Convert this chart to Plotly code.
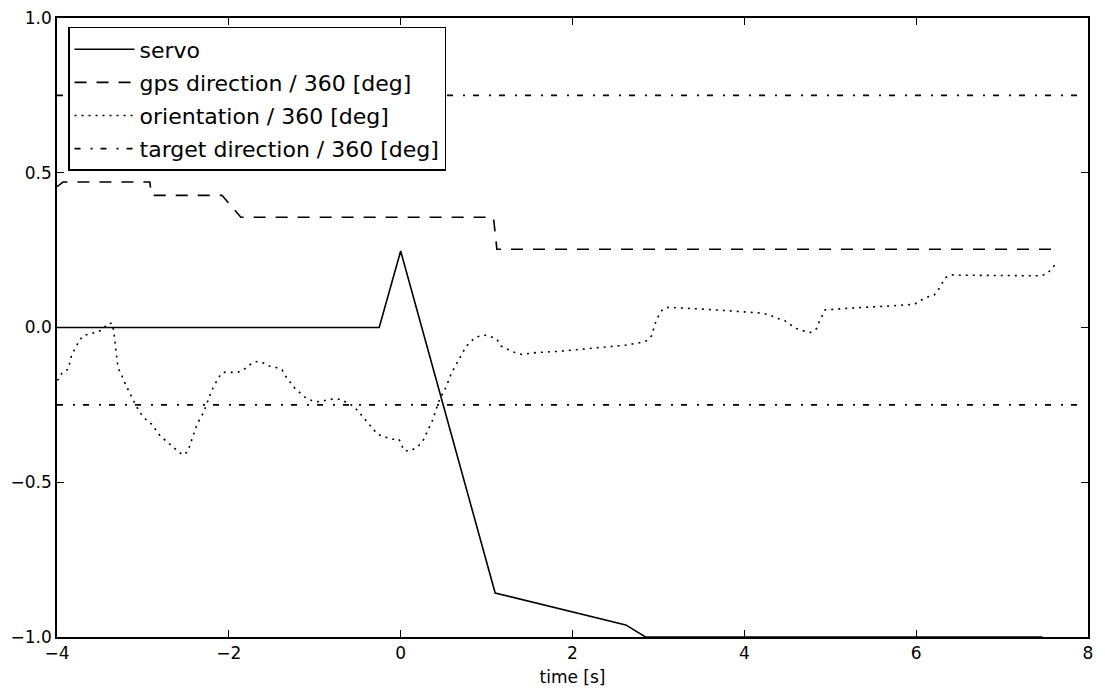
import plotly.graph_objects as go

# ---- data ----
servo_t = [-4.0, -0.25, 0.0, 1.10, 2.62, 2.85, 7.47]
servo_v = [0.0, 0.0, 0.247, -0.858, -0.961, -1.0, -1.0]

gps_t = [-4.0, -3.93, -2.92, -2.90, -2.08, -1.86, 1.08, 1.12, 7.63]
gps_v = [0.455, 0.470, 0.470, 0.427, 0.427, 0.356, 0.356, 0.253, 0.253]

orient_t = [-4.0, -3.98, -3.94, -3.87, -3.83, -3.75, -3.70, -3.62, -3.54, -3.46, -3.42,
            -3.36, -3.34, -3.31, -3.29, -3.25, -3.18, -3.08, -3.02, -2.96, -2.90, -2.80,
            -2.67, -2.54, -2.48, -2.43, -2.37, -2.29, -2.20, -2.12, -2.07, -1.90, -1.83,
            -1.76, -1.69, -1.61, -1.54, -1.45, -1.38, -1.34, -1.23, -1.11, -1.03, -0.96,
            -0.88, -0.79, -0.70, -0.63, -0.55, -0.49, -0.38, -0.27, -0.19, -0.10, -0.02,
            0.04, 0.12, 0.20, 0.26, 0.30, 0.37, 0.45, 0.53, 0.59, 0.68, 0.76, 0.81, 0.89,
            0.97, 1.05, 1.12, 1.17, 1.25, 1.33, 1.41, 1.58, 1.84, 2.10, 2.36, 2.62, 2.78,
            2.86, 2.92, 2.97, 3.01, 3.05, 3.11, 3.27, 3.55, 3.87, 4.14, 4.21, 4.30, 4.38,
            4.47, 4.53, 4.60, 4.69, 4.77, 4.84, 4.87, 4.94, 5.03, 5.38, 5.72, 5.98, 6.05,
            6.13, 6.21, 6.26, 6.34, 6.41, 6.50, 7.45, 7.53, 7.58, 7.64]
orient_v = [-0.170, -0.167, -0.146, -0.135, -0.089, -0.047, -0.027, -0.021, -0.015, -0.006, 0.011,
            0.014, -0.010, -0.084, -0.130, -0.153, -0.197, -0.253, -0.280, -0.299, -0.312, -0.350,
            -0.380, -0.412, -0.402, -0.360, -0.313, -0.272, -0.204, -0.162, -0.145, -0.145, -0.137,
            -0.121, -0.110, -0.113, -0.124, -0.129, -0.137, -0.157, -0.197, -0.226, -0.237, -0.240,
            -0.236, -0.231, -0.232, -0.243, -0.254, -0.272, -0.310, -0.345, -0.353, -0.361, -0.361,
            -0.398, -0.398, -0.385, -0.366, -0.342, -0.300, -0.234, -0.191, -0.148, -0.103, -0.062, -0.046, -0.030,
            -0.024, -0.030, -0.038, -0.060, -0.071, -0.081, -0.087, -0.081, -0.077, -0.070, -0.063, -0.057, -0.049,
            -0.043, -0.027, 0.019, 0.043, 0.059, 0.065, 0.063, 0.059, 0.053, 0.048, 0.046, 0.040, 0.030,
            0.022, 0.011, -0.003, -0.011, -0.016, -0.004, 0.017, 0.057, 0.059, 0.065, 0.070, 0.075, 0.087,
            0.098, 0.105, 0.123, 0.161, 0.170, 0.169, 0.167, 0.175, 0.193, 0.207]

target_t = [-4.0, 7.95, None, -4.0, 7.95]
target_v = [0.75, 0.75, None, -0.25, -0.25]

x_ticks = [-4, -2, 0, 2, 4, 6, 8]
x_labels = ["\u22124", "\u22122", "0", "2", "4", "6", "8"]
y_ticks = [-1.0, -0.5, 0.0, 0.5, 1.0]
y_labels = ["\u22121.0", "\u22120.5", "0.0", "0.5", "1.0"]

FONT = "DejaVu Sans"

fig = go.Figure()
fig.add_trace(go.Scatter(x=servo_t, y=servo_v, mode="lines", name="servo",
                         legendgroup="a", line=dict(color="black", width=1.6)))
fig.add_trace(go.Scatter(x=gps_t, y=gps_v, mode="lines", name="gps direction / 360 [deg]",
                         legendgroup="b", line=dict(color="black", width=1.6, dash="12px,10px")))
fig.add_trace(go.Scatter(x=orient_t, y=orient_v, mode="lines", name="orientation / 360 [deg]",
                         legendgroup="c", line=dict(color="black", width=1.6, dash="2px,5px")))
fig.add_trace(go.Scatter(x=target_t, y=target_v, mode="lines", name="target direction / 360 [deg]",
                         legendgroup="d", connectgaps=False,
                         line=dict(color="black", width=1.6, dash="6px,10px,2px,8px")))

axis_common = dict(showline=True, linecolor="black", linewidth=1.5, mirror="ticks",
                   ticks="inside", ticklen=7, tickcolor="black", tickwidth=1,
                   showgrid=False, zeroline=False, automargin=False,
                   ticklabeloverflow="allow",
                   tickfont=dict(family=FONT, size=17, color="black"))

fig.update_xaxes(range=[-4, 8], tickvals=x_ticks, ticktext=x_labels,
                 title=dict(text="time [s]", font=dict(family=FONT, size=17, color="black"),
                            standoff=9),
                 **axis_common)
fig.update_yaxes(range=[-1, 1], tickvals=y_ticks, ticktext=y_labels, **axis_common)

# page body has an 8px margin, so the figure is 8px smaller and margins shifted
fig.update_layout(
    width=1097, height=681,
    margin=dict(l=49, r=17, t=10, b=52),
    paper_bgcolor="white", plot_bgcolor="white",
    font=dict(family=FONT, size=17, color="black"),
    showlegend=True,
    legend=dict(x=0.0107, y=0.9855, xanchor="left", yanchor="top",
                bgcolor="white", bordercolor="black", borderwidth=1.5,
                font=dict(family=FONT, size=22, color="black"),
                traceorder="grouped", tracegroupgap=1.5, itemwidth=60),
)

fig.write_html("out.html")
